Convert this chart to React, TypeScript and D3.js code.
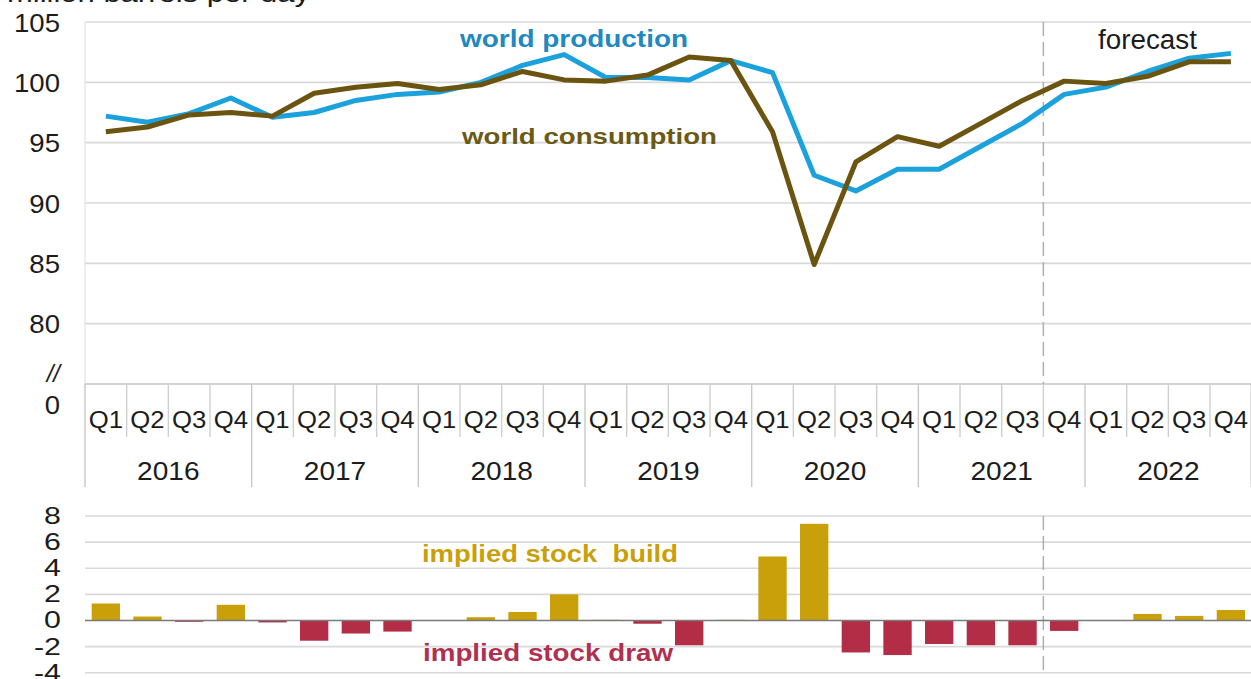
import React from 'react';
import * as d3 from 'd3';

const years = ['2016', '2017', '2018', '2019', '2020', '2021', '2022'];
const quarterNames = ['Q1', 'Q2', 'Q3', 'Q4'];
const categories = years.flatMap((y) => quarterNames.map((q) => `${y} ${q}`));

const production = [97.2, 96.7, 97.4, 98.7, 97.1, 97.5, 98.5, 99.0, 99.2, 100.0, 101.4, 102.3, 100.4, 100.4, 100.2, 101.8, 100.8, 92.3, 91.0, 92.8, 92.8, 94.7, 96.6, 99.0, 99.6, 100.9, 102.0, 102.4];
const consumption = [95.9, 96.3, 97.3, 97.5, 97.2, 99.1, 99.6, 99.9, 99.4, 99.8, 100.9, 100.2, 100.1, 100.6, 102.1, 101.8, 95.9, 84.9, 93.4, 95.5, 94.7, 96.6, 98.5, 100.1, 99.9, 100.5, 101.7, 101.7];
const stockChange = [1.3, 0.3, -0.1, 1.2, -0.15, -1.55, -1.0, -0.85, 0.0, 0.25, 0.65, 2.0, 0.05, -0.25, -1.9, 0.05, 4.9, 7.4, -2.45, -2.65, -1.8, -1.9, -1.9, -0.8, 0.0, 0.5, 0.35, 0.8];

const topTicks = [80, 85, 90, 95, 100, 105];
const bottomTicks = [8, 6, 4, 2, 0, -2, -4];
const forecastStart = '2021 Q4';

const W = 1251;
const H = 679;
const FONT = '"Liberation Sans", Arial, sans-serif';
const TEXT = '#1c1c1c';
const GRID = '#d9d9d9';
const BLUE = '#1ba1db';
const BROWN = '#6b5410';
const GOLD = '#c9a00a';
const RED = '#b22d45';

function SText({ x, y, sx = 1, anchor = 'start', size, weight = 'normal', fill = TEXT, style, children, textLength }: any) {
  return (
    <g transform={`translate(${x},${y}) scale(${sx},1)`}>
      <text
        x={0}
        y={0}
        textAnchor={anchor}
        fontFamily={FONT}
        fontSize={size}
        fontWeight={weight}
        fill={fill}
        style={style}
        textLength={textLength}
        lengthAdjust={textLength ? 'spacingAndGlyphs' : undefined}
      >
        {children}
      </text>
    </g>
  );
}

export default function App() {
  const left = 85;
  const right = 1251.7;
  const x = d3.scaleBand<string>().domain(categories).range([left, right]).paddingInner(0.32).paddingOuter(0.16);
  const step = x.step();
  const cx = (c: string) => (x(c) as number) + x.bandwidth() / 2;
  const bandStart = (i: number) => left + i * step;

  const yTop = d3.scaleLinear().domain([75, 105]).range([384, 22]);
  const yBot = d3.scaleLinear().domain([-4, 8]).range([672.7, 516]);

  const line = d3
    .line<number>()
    .x((_, i) => cx(categories[i]))
    .y((d) => yTop(d));

  const fIdx = categories.indexOf(forecastStart);
  const fx = bandStart(fIdx);
  const baseY = yTop(75);

  return (
    <svg width={W} height={H} style={{ position: 'absolute', left: 0, top: 0, background: '#fff' }}>
      <rect x={0} y={0} width={W} height={H} fill="#fff" />
      {/* unit title (cut at top) */}
      <SText x={7} y={2} size={25} textLength={303}>million barrels per day</SText>

      {/* top grid */}
      {topTicks.map((t) => (
        <line key={t} x1={left} x2={right} y1={yTop(t)} y2={yTop(t)} stroke={GRID} strokeWidth={1.6} />
      ))}
      <line x1={left} x2={left} y1={yTop(105)} y2={baseY} stroke="#e2e2e2" strokeWidth={1.2} />
      {topTicks.map((t) => (
        <SText key={t} x={60} y={yTop(t) + 9.5} anchor="end" size={26} sx={1.06}>
          {t}
        </SText>
      ))}
      <SText x={60} y={382} anchor="end" size={24} style={{ fontStyle: 'italic' }}>//</SText>
      <SText x={60} y={414} anchor="end" size={26} sx={1.06}>0</SText>

      {/* category axis */}
      <line x1={left} x2={right} y1={baseY} y2={baseY} stroke="#c4c4c4" strokeWidth={1.5} />
      {categories.map((c, i) =>
        i % 4 === 0 ? null : (
          <line key={c} x1={bandStart(i)} x2={bandStart(i)} y1={baseY} y2={437} stroke="#cfcfcf" strokeWidth={1.4} />
        )
      )}
      {years.map((yr, k) => (
        <line key={yr} x1={bandStart(k * 4)} x2={bandStart(k * 4)} y1={baseY} y2={487} stroke="#c8c8c8" strokeWidth={1.4} />
      ))}
      <line x1={right - 0.5} x2={right - 0.5} y1={baseY} y2={487} stroke="#c8c8c8" strokeWidth={1.4} />
      {categories.map((c, i) => (
        <SText key={c} x={cx(c)} y={428} anchor="middle" size={24} sx={1.07}>
          {quarterNames[i % 4]}
        </SText>
      ))}
      {years.map((yr, k) => (
        <SText key={yr} x={bandStart(k * 4) + 2 * step} y={480} anchor="middle" size={26} sx={1.08}>
          {yr}
        </SText>
      ))}

      {/* forecast divider top */}
      <line x1={fx} x2={fx} y1={yTop(105)} y2={baseY} stroke="#b0b0b0" strokeWidth={1.5} strokeDasharray="14 6" />
      <SText x={1098} y={49} size={27} textLength={99}>forecast</SText>

      {/* lines */}
      <path d={line(production) as string} fill="none" stroke={BLUE} strokeWidth={5} strokeLinejoin="round" />
      <path d={line(consumption) as string} fill="none" stroke={BROWN} strokeWidth={5} strokeLinejoin="round" />

      <SText x={460} y={47} size={23.5} weight="bold" fill="#2189bf" textLength={228}>world production</SText>
      <SText x={462} y={144} size={22.5} weight="bold" fill="#6b5a14" textLength={255}>world consumption</SText>

      {/* bottom chart */}
      {bottomTicks.map((t) =>
        t === 0 ? null : (
          <line key={t} x1={left} x2={right} y1={yBot(t)} y2={yBot(t)} stroke={GRID} strokeWidth={1.6} />
        )
      )}
      {bottomTicks.map((t) => (
        <SText key={t} x={61} y={yBot(t) + 8} anchor="end" size={23} sx={1.32}>
          {t}
        </SText>
      ))}
      <line x1={fx} x2={fx} y1={yBot(8)} y2={yBot(-4)} stroke="#b0b0b0" strokeWidth={1.5} strokeDasharray="14 6" />
      {stockChange.map((v, i) => {
        const c = categories[i];
        const y0 = yBot(0);
        const y1 = yBot(v);
        return (
          <rect
            key={c}
            x={x(c)}
            width={x.bandwidth()}
            y={Math.min(y0, y1)}
            height={Math.abs(y1 - y0)}
            fill={v >= 0 ? GOLD : RED}
          />
        );
      })}
      <line x1={left} x2={right} y1={yBot(0)} y2={yBot(0)} stroke="#7a7a7a" strokeWidth={1.5} />

      <SText x={422} y={562} size={23} weight="bold" fill={GOLD} textLength={256} style={{ whiteSpace: 'pre' }}>
        implied stock  build
      </SText>
      <SText x={423} y={661} size={23} weight="bold" fill="#b03050" textLength={250}>implied stock draw</SText>
    </svg>
  );
}
